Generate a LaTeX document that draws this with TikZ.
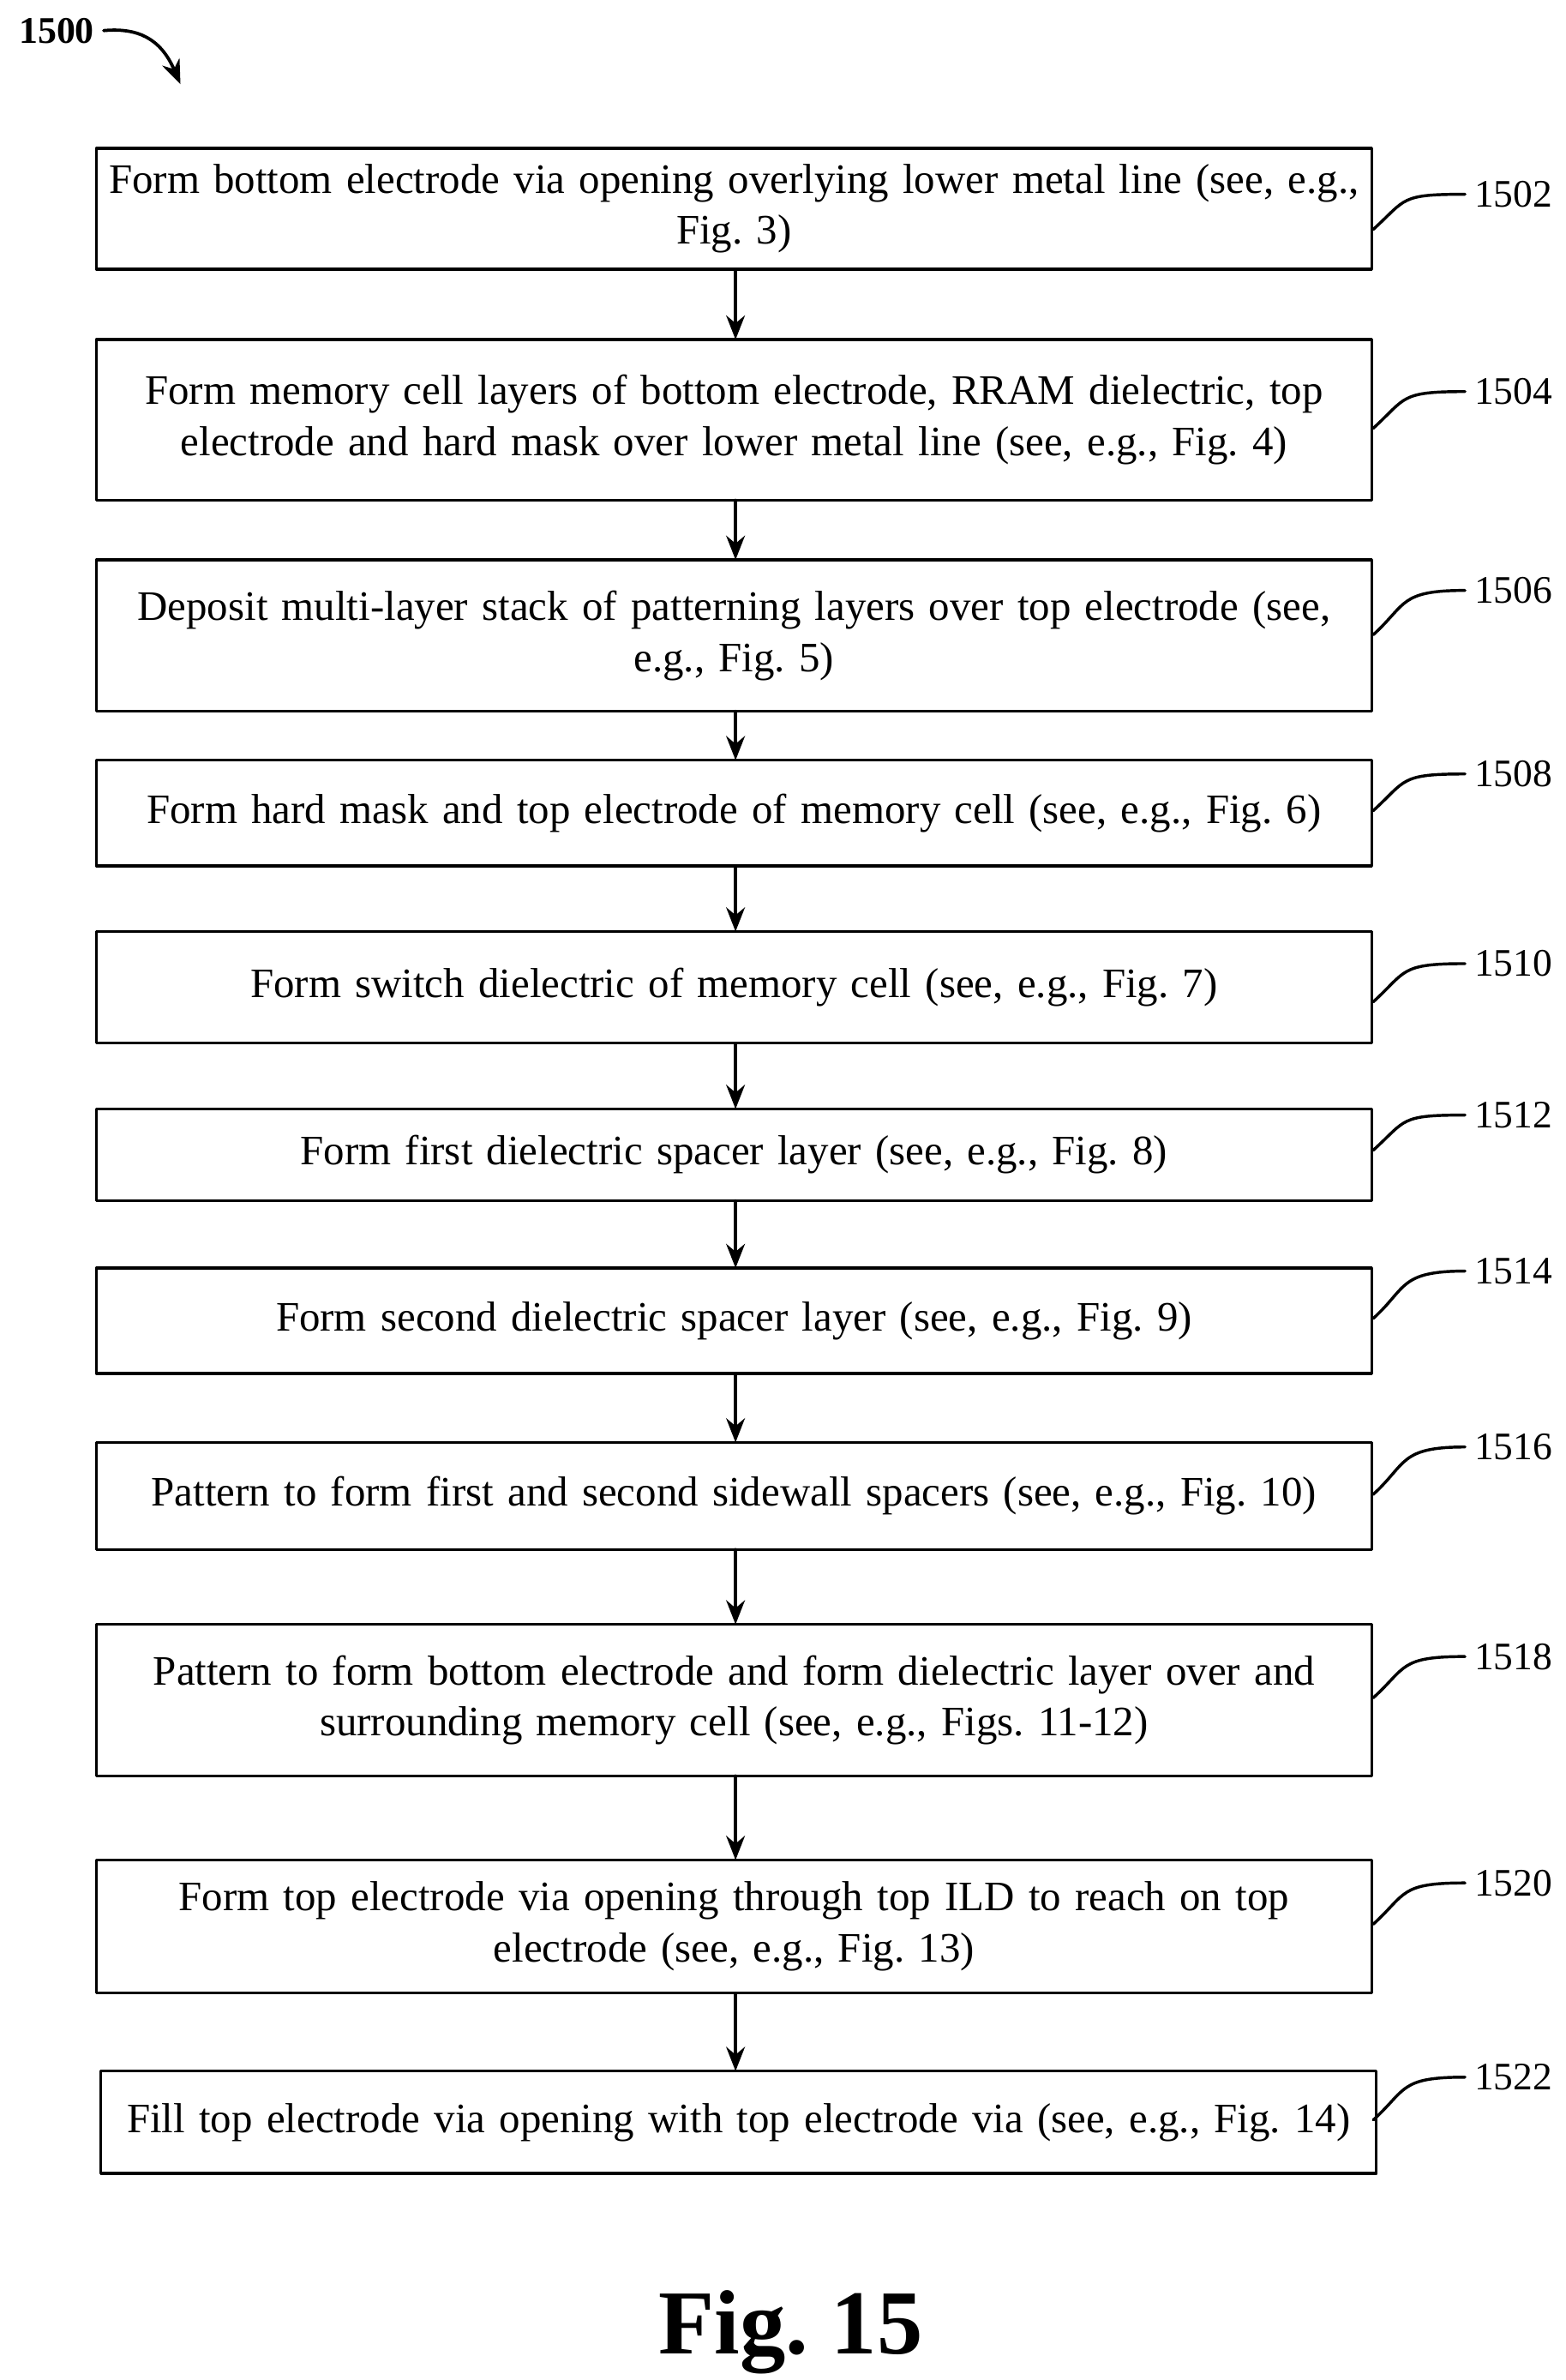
\documentclass[tikz,border=0pt]{standalone}
\usepackage{fontspec}
\setmainfont{Liberation Serif}
\usetikzlibrary{arrows.meta,calc}
\frenchspacing
\begin{document}
\begin{tikzpicture}[x=0.02cm,y=-0.02cm, line join=round, line cap=round, >={Stealth[length=9pt,width=7pt]},
  steptext/.style={align=center,text width=16.4cm,font=\fontsize{15.6}{19}\selectfont,inner sep=0pt},
  tag/.style={font=\fontsize{14.5}{17}\selectfont,anchor=west}]
	\useasboundingbox (0,0) rectangle (1024,1556);
	% label of the figure
	\node[font=\bfseries\fontsize{14}{16}\selectfont] (fig) at (37,20) {1500};
	\coordinate (f1) at (118,55);
	\draw[->,line width=1.2pt] (fig.east) .. controls (90,18) and (105,25) .. (f1);
	% steps
	\def\stepbox#1#2#3#4#5{%
	  \draw[line width=1.1pt] (#2,#3) rectangle (#2+834,#4);
	  \node[steptext] (s#1) at (#2+417,{(#3+#4)/2}) {#5};
	  \coordinate (t#1) at (481,#3);
	  \coordinate (b#1) at (481,#4);}
	\stepbox{1502}{63}{97}{176}{Form bottom electrode via opening overlying lower metal line (see, e.g.,\\ Fig. 3)}
	\stepbox{1504}{63}{222}{327}{Form memory cell layers of bottom electrode, RRAM dielectric, top\\ electrode and hard mask over lower metal line (see, e.g., Fig. 4)}
	\stepbox{1506}{63}{366}{465}{Deposit multi-layer stack of patterning layers over top electrode (see,\\ e.g., Fig. 5)}
	\stepbox{1508}{63}{497}{566}{Form hard mask and top electrode of memory cell (see, e.g., Fig. 6)}
	\stepbox{1510}{63}{609}{682}{Form switch dielectric of memory cell (see, e.g., Fig. 7)}
	\stepbox{1512}{63}{725}{785}{Form first dielectric spacer layer (see, e.g., Fig. 8)}
	\stepbox{1514}{63}{829}{898}{Form second dielectric spacer layer (see, e.g., Fig. 9)}
	\stepbox{1516}{63}{943}{1013}{Pattern to form first and second sidewall spacers (see, e.g., Fig. 10)}
	\stepbox{1518}{63}{1062}{1161}{Pattern to form bottom electrode and form dielectric layer over and\\ surrounding memory cell (see, e.g., Figs. 11-12)}
	\stepbox{1520}{63}{1216}{1303}{Form top electrode via opening through top ILD to reach on top\\ electrode (see, e.g., Fig. 13)}
	\stepbox{1522}{66}{1354}{1421}{Fill top electrode via opening with top electrode via (see, e.g., Fig. 14)}
	% connectors
	\foreach \a/\b in {1502/1504,1504/1506,1506/1508,1508/1510,1510/1512,1512/1514,1514/1516,1516/1518,1518/1520,1520/1522}
	  \draw[->,line width=1.1pt] (b\a) -- (t\b);
	% reference numerals
	\foreach \n/\ya/\yl in {1502/150/127,1504/280/256,1506/415/386,1508/530/506,1510/655/630,1512/752/729,1514/862/831,1516/977/946,1518/1110/1083,1520/1258/1231,1522/1386/1358}{
	  \node[tag] (l\n) at (958,\yl) {\n};
	  \coordinate (a\n) at (898,\ya);
	  \draw[line width=1.1pt] (a\n) .. controls (920,\ya-20) and (915,\yl) .. (l\n.west);
	}
	\node[font=\bfseries\fontsize{34}{36}\selectfont] (title) at (517,1525) {Fig. 15};
\end{tikzpicture}
\end{document}
